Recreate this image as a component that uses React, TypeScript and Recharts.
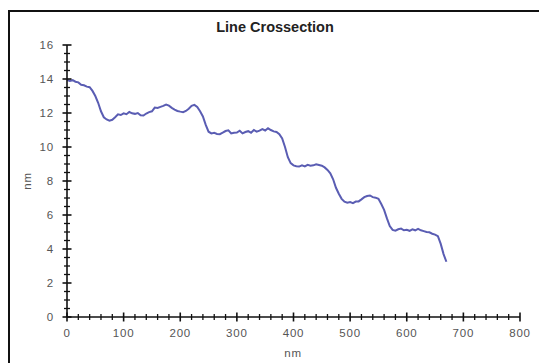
import { LineChart, Line, XAxis, YAxis } from "recharts";

// sample positions along the scan (nm)
const distance = [
  0, 5, 10, 15, 20, 25, 30, 35, 40, 45, 50, 55, 60, 65, 70, 75, 80, 85, 90, 95,
  100, 105, 110, 115, 120, 125, 130, 135, 140, 145, 150, 155, 160, 165, 170, 175, 180, 185, 190, 195,
  200, 205, 210, 215, 220, 225, 230, 235, 240, 245, 250, 255, 260, 265, 270, 275, 280, 285, 290, 295,
  300, 305, 310, 315, 320, 325, 330, 335, 340, 345, 350, 355, 360, 365, 370, 375, 380, 385, 390, 395,
  400, 405, 410, 415, 420, 425, 430, 435, 440, 445, 450, 455, 460, 465, 470, 475, 480, 485, 490, 495,
  500, 505, 510, 515, 520, 525, 530, 535, 540, 545, 550, 555, 560, 565, 570, 575, 580, 585, 590, 595,
  600, 605, 610, 615, 620, 625, 630, 635, 640, 645, 650, 655, 660, 665, 670,
];

// measured height (nm)
const height = [
  13.95, 13.88, 13.93, 13.84, 13.8, 13.66, 13.63, 13.55, 13.52, 13.3, 13.0, 12.6, 12.1, 11.75, 11.62, 11.55, 11.6, 11.75, 11.92, 11.88,
  11.98, 11.93, 12.06, 11.98, 11.95, 12.0, 11.86, 11.85, 11.97, 12.05, 12.1, 12.32, 12.3, 12.36, 12.42, 12.5, 12.43, 12.3, 12.2, 12.12,
  12.08, 12.05, 12.12, 12.25, 12.42, 12.48, 12.35, 12.1, 11.8, 11.3, 10.9, 10.8, 10.83, 10.77, 10.75, 10.84, 10.94, 10.98, 10.8, 10.84,
  10.85, 10.96, 10.8, 10.88, 10.93, 10.84, 11.0, 10.9, 10.96, 11.05, 10.97, 11.1, 11.0, 10.92, 10.88, 10.75, 10.5, 10.0, 9.4, 9.05,
  8.92, 8.87, 8.85, 8.92, 8.86, 8.95, 8.9, 8.92, 8.98, 8.94, 8.9, 8.8, 8.65, 8.45, 8.1, 7.6, 7.25, 6.95, 6.78, 6.72,
  6.76, 6.7, 6.79, 6.8, 6.92, 7.05, 7.12, 7.15, 7.05, 7.02, 6.95, 6.65, 6.3, 5.8, 5.35, 5.12, 5.08, 5.16, 5.2, 5.1,
  5.13, 5.07, 5.16, 5.1, 5.18, 5.1, 5.05, 5.0, 4.98, 4.9, 4.85, 4.75, 4.3, 3.7, 3.25,
];

const xTicks = [
  0, 20, 40, 60, 80, 100, 120, 140, 160, 180, 200, 220, 240, 260, 280, 300, 320, 340, 360, 380, 400,
  420, 440, 460, 480, 500, 520, 540, 560, 580, 600, 620, 640, 660, 680, 700, 720, 740, 760, 780, 800,
];
const xLabels = [0, 100, 200, 300, 400, 500, 600, 700, 800];

const yTicks = [
  0, 0.5, 1, 1.5, 2, 2.5, 3, 3.5, 4, 4.5, 5, 5.5, 6, 6.5, 7, 7.5, 8,
  8.5, 9, 9.5, 10, 10.5, 11, 11.5, 12, 12.5, 13, 13.5, 14, 14.5, 15, 15.5, 16,
];
const yLabels = [0, 2, 4, 6, 8, 10, 12, 14, 16];

const data = distance.map((d, i) => ({ d, h: height[i] }));

const FONT = "'Liberation Sans', Arial, sans-serif";

const BottomTick = (props: any) => {
  const { x, y, payload } = props;
  const major = xLabels.includes(payload.value);
  const len = major ? 4.5 : 3;
  return (
    <g>
      <line x1={x} x2={x} y1={y - len} y2={y + len} stroke="#111" strokeWidth={major ? 1.6 : 1.3} />
      {major && (
        <text x={x} y={y + 20} textAnchor="middle" fontSize={11.5} letterSpacing={0.8} fill="#555" fontFamily={FONT}>
          {payload.value}
        </text>
      )}
    </g>
  );
};

const LeftTick = (props: any) => {
  const { x, y, payload } = props;
  const major = yLabels.includes(payload.value);
  const len = major ? 4.5 : 3;
  return (
    <g>
      <line x1={x - len} x2={x + len} y1={y} y2={y} stroke="#111" strokeWidth={major ? 1.6 : 1.3} />
      {major && (
        <text x={x - 13} y={y + 4} textAnchor="end" fontSize={11.5} letterSpacing={0.8} fill="#555" fontFamily={FONT}>
          {payload.value}
        </text>
      )}
    </g>
  );
};

// inward ticks on the top and right frame
const TopTick = (props: any) => {
  const { x, y, payload } = props;
  const major = xLabels.includes(payload.value);
  return <line x1={x} x2={x} y1={y} y2={y + (major ? 3.5 : 2.5)} stroke="#444" strokeWidth={1.2} />;
};

const RightTick = (props: any) => {
  const { x, y, payload } = props;
  const major = yLabels.includes(payload.value);
  return <line x1={x} x2={x - (major ? 3.5 : 2.5)} y1={y} y2={y} stroke="#444" strokeWidth={1.2} />;
};

export default function App() {
  return (
    <div style={{ position: "absolute", left: 0, top: 0, width: 539, height: 363, background: "#fff", overflow: "hidden" }}>
      <div
        style={{
          position: "absolute",
          left: 8,
          top: 10,
          width: 560,
          height: 400,
          borderLeft: "2px solid #111",
          borderTop: "2px solid #111",
        }}
      />
      <div
        style={{
          position: "absolute",
          left: 275,
          top: 27,
          transform: "translate(-50%, -50%)",
          fontFamily: FONT,
          fontWeight: "bold",
          fontSize: 14.5,
          color: "#222",
          whiteSpace: "nowrap",
        }}
      >
        Line Crossection
      </div>
      <div
        style={{
          position: "absolute",
          left: 27,
          top: 181,
          transform: "translate(-50%, -50%) rotate(-90deg)",
          fontFamily: FONT,
          fontSize: 11.5,
          letterSpacing: 0.8,
          color: "#555",
        }}
      >
        nm
      </div>
      <div
        style={{
          position: "absolute",
          left: 293,
          top: 353,
          transform: "translate(-50%, -50%)",
          fontFamily: FONT,
          fontSize: 11.5,
          letterSpacing: 0.8,
          color: "#555",
        }}
      >
        nm
      </div>
      <div style={{ position: "absolute", left: 0, top: 0 }}>
        <LineChart width={539} height={363} data={data} margin={{ top: 45, right: 19, bottom: 16, left: 27 }}>
          <XAxis
            xAxisId="bottom"
            dataKey="d"
            type="number"
            domain={[0, 800]}
            allowDataOverflow
            ticks={xTicks}
            interval={0}
            height={30}
            tickSize={0}
            tickMargin={0}
            tickLine={false}
            tick={<BottomTick />}
            axisLine={{ stroke: "#111", strokeWidth: 1.6 }}
          />
          <XAxis
            xAxisId="top"
            orientation="top"
            dataKey="d"
            type="number"
            domain={[0, 800]}
            allowDataOverflow
            ticks={xTicks}
            interval={0}
            height={0}
            tickSize={0}
            tickMargin={0}
            tickLine={false}
            tick={<TopTick />}
            axisLine={{ stroke: "#444", strokeWidth: 1.2 }}
          />
          <YAxis
            yAxisId="left"
            type="number"
            domain={[0, 16]}
            allowDataOverflow
            ticks={yTicks}
            interval={0}
            width={40}
            tickSize={0}
            tickMargin={0}
            tickLine={false}
            tick={<LeftTick />}
            axisLine={{ stroke: "#111", strokeWidth: 1.6 }}
          />
          <YAxis
            yAxisId="right"
            orientation="right"
            type="number"
            domain={[0, 16]}
            allowDataOverflow
            ticks={yTicks}
            interval={0}
            width={0}
            tickSize={0}
            tickMargin={0}
            tickLine={false}
            tick={<RightTick />}
            axisLine={{ stroke: "#444", strokeWidth: 1.2 }}
          />
          <Line
            xAxisId="bottom"
            yAxisId="left"
            dataKey="h"
            type="linear"
            stroke="#5a5db3"
            strokeWidth={2}
            dot={false}
            isAnimationActive={false}
          />
        </LineChart>
      </div>
    </div>
  );
}
